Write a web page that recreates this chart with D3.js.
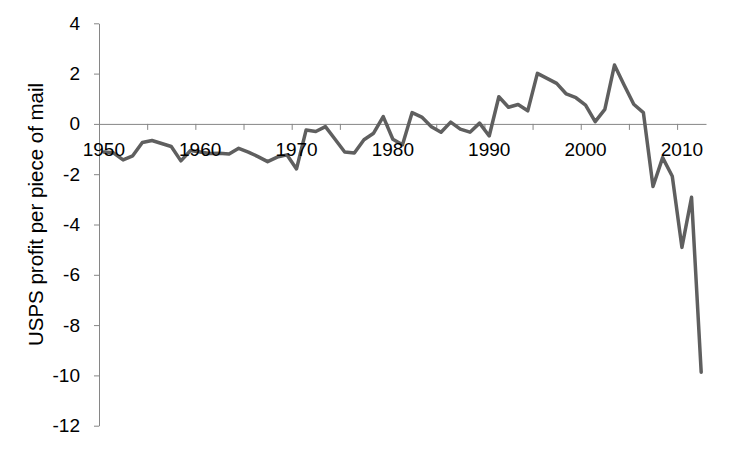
<!DOCTYPE html>
<html>
<head>
<meta charset="utf-8">
<script src="https://cdn.jsdelivr.net/npm/d3@7"></script>
<style>
  body { margin: 0; background: #fff; }
  text { font-family: "Liberation Sans", Arial, sans-serif; fill: #000; }
</style>
</head>
<body>
<script>
// years on the category axis
var years = d3.range(1950, 2013);

// USPS profit per piece of mail
var profit = [
  -1.12, -1.15, -1.43, -1.27, -0.74, -0.66, -0.78, -0.90, -1.47, -1.06,
  -1.12, -1.18, -1.17, -1.20, -0.97, -1.12, -1.30, -1.50, -1.32, -1.23,
  -1.79, -0.24, -0.30, -0.11, -0.61, -1.12, -1.16, -0.63, -0.37, 0.29,
  -0.61, -0.83, 0.45, 0.27, -0.11, -0.33, 0.07, -0.21, -0.33, 0.03,
  -0.48, 1.08, 0.66, 0.77, 0.52, 2.01, 1.81, 1.61, 1.19, 1.04,
  0.75, 0.09, 0.58, 2.34, 1.55, 0.78, 0.45, -2.49, -1.34, -2.08,
  -4.91, -2.92, -9.87
];

var yTicks = [4, 2, 0, -2, -4, -6, -8, -10, -12];
var xLabelYears = [1950, 1960, 1970, 1980, 1990, 2000, 2010];
var yTitle = "USPS profit per piece of mail";

var w = 750, h = 450;
// plot area edges (note: "top" is taken by window.top)
var pLeft = 99, pRight = 706, pTop = 23.3, pBottom = 425.7;

var axisColor = "#868686";
var lineColor = "#5f5f5f";

var svg = d3.select("body")
  .append("svg")
  .attr("width", w)
  .attr("height", h);

var x = d3.scaleBand()
  .domain(years)
  .range([pLeft, pRight])
  .padding(0);

// edges between categories, for the tick marks
var xEdge = d3.scaleLinear()
  .domain([0, years.length])
  .range([pLeft, pRight]);

var y = d3.scaleLinear()
  .domain([-12, 4])
  .range([pBottom, pTop]);

// y axis
var yAxis = svg.append("g")
  .attr("transform", "translate(" + pLeft + ",0)")
  .call(d3.axisLeft(y)
    .tickValues(yTicks)
    .tickSizeInner(5)
    .tickSizeOuter(0)
    .tickPadding(14)
    .tickFormat(function(d) { return String(d); }));
yAxis.selectAll("path, line").attr("stroke", axisColor);
yAxis.selectAll("text")
  .style("font-family", "'Liberation Sans', Arial, sans-serif")
  .style("font-size", "19px")
  .attr("fill", "#000");

// x axis line and tick marks (every 5 categories)
var xMarks = d3.range(5, years.length, 5);
var xAxis = svg.append("g")
  .attr("transform", "translate(0," + y(0) + ")")
  .call(d3.axisBottom(xEdge)
    .tickValues(xMarks)
    .tickSizeInner(6)
    .tickSizeOuter(0)
    .tickFormat(""));
xAxis.selectAll("path, line").attr("stroke", axisColor);

// y title
svg.append("text")
  .attr("transform", "translate(43," + ((pTop + pBottom) / 2 - 10) + ") rotate(-90)")
  .attr("text-anchor", "middle")
  .style("font-size", "20.5px")
  .text(yTitle);

// the series
var line = d3.line()
  .x(function(d, i) { return x(years[i]) + x.bandwidth() / 2; })
  .y(function(d) { return y(d); });

svg.append("path")
  .datum(profit)
  .attr("d", line)
  .attr("fill", "none")
  .attr("stroke", lineColor)
  .attr("stroke-width", 3.5)
  .attr("stroke-linejoin", "round")
  .attr("stroke-linecap", "round");

// x labels (every 10 categories), drawn over the line like the original
var xLab = svg.append("g")
  .attr("transform", "translate(0," + y(0) + ")")
  .call(d3.axisBottom(x)
    .tickValues(xLabelYears)
    .tickSize(0)
    .tickPadding(19));
xLab.select(".domain").remove();
xLab.selectAll("text")
  .style("font-family", "'Liberation Sans', Arial, sans-serif")
  .style("font-size", "19px")
  .attr("fill", "#000");
</script>
</body>
</html>
